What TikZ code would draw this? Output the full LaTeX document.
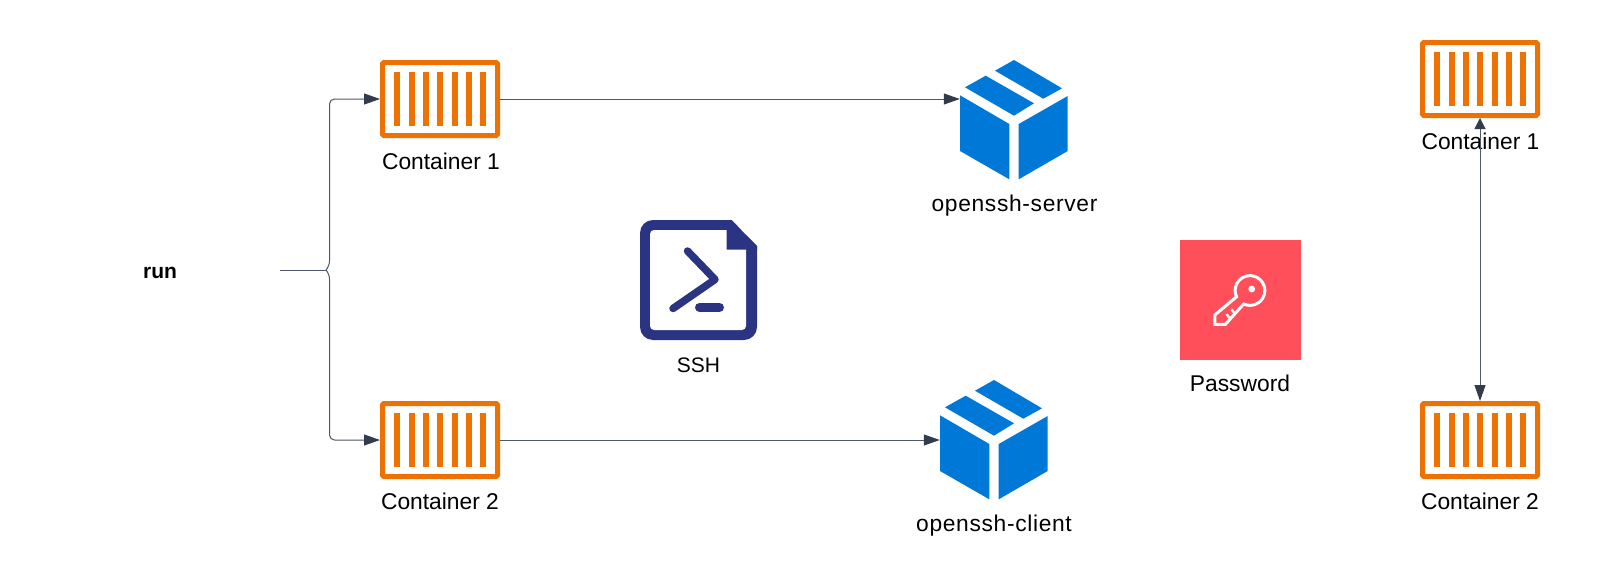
\documentclass[tikz,border=0pt]{standalone}
\usepackage{fontspec}
\setmainfont{Liberation Sans}
\usetikzlibrary{arrows.meta,calc}
\definecolor{cont}{HTML}{EE7203}
\definecolor{boxblue}{HTML}{0078D7}
\definecolor{navy}{HTML}{2B3483}
\definecolor{keyred}{HTML}{FF4F5B}
\definecolor{edgecol}{HTML}{50576A}
\definecolor{tipcol}{HTML}{333C4D}
\tikzset{
  x=1pt,y=-1pt,
  lbl/.style={font=\fontsize{22.8}{26}\selectfont,text=black,inner sep=0pt,anchor=base},
  runlbl/.style={font=\fontsize{21}{26}\selectfont\bfseries,text=black,inner sep=0pt,anchor=base},
  container/.style={draw=cont,line width=5pt,rounded corners=1.5pt,minimum width=115pt,minimum height=73pt,inner sep=0pt,fill=white},
  link/.style={draw=edgecol,line width=1pt,-{Triangle[length=16pt,width=11pt,color=tipcol]}},
  plain/.style={draw=edgecol,line width=1pt},
  duallink/.style={draw=edgecol,line width=1pt,{Triangle[length=11pt,width=11pt,color=tipcol]}-{Triangle[length=16pt,width=11pt,color=tipcol]}},
}
\newcommand{\mybars}[1]{%
  \foreach \i in {0,...,6}{
    \fill[cont] ($(#1.center)+(-45.8+14.33*\i,-26.7)$) rectangle ++(6,53.4);
  }}
\newcommand{\mybox}[3]{% x y of top centre
  \begin{scope}[shift={(#1,#2)}]
    \fill[boxblue] (-19,10.7) -- (0,0) -- (48,28.3) -- (29.3,38.7) -- cycle;
    \fill[boxblue] (-49,27.3) -- (-28.3,15.7) -- (20,43.3) -- (0,55.7) -- cycle;
    \fill[boxblue] (-54,35.3) -- (-4.7,64) -- (-4.7,119.3) -- (-54,91) -- cycle;
    \fill[boxblue] (4.7,64) -- (53.7,36) -- (53.7,91) -- (4.7,119.3) -- cycle;
  \end{scope}
  \node[inner sep=0pt,minimum width=108pt,minimum height=120pt] (#3) at (#1,#2+60) {};
}
\begin{document}
\begin{tikzpicture}
\useasboundingbox (0,0) rectangle (1610,570);
\fill[white] (0,0) rectangle (1610,570);
% containers
\node[container] (c1) at (440,99) {}; \mybars{c1}
\node[container] (c2) at (440,440) {}; \mybars{c2}
\node[container] (r1) at (1480,79) {}; \mybars{r1}
\node[container] (r2) at (1480,440) {}; \mybars{r2}
\node[lbl] (c1l) at (441,169.8) {Container 1};
\node[lbl] (c2l) at (440,509.8) {Container 2};
\node[lbl] (r1l) at (1480.5,149.8) {Container 1};
\node[lbl] (r2l) at (1480,509.8) {Container 2};
% packages
\mybox{1014}{60}{b1}
\mybox{994}{380}{b2}
\node[lbl] (b1l) at (1014.5,211) {\addfontfeature{LetterSpace=2.9}openssh-server};
\node[lbl] (b2l) at (994,531) {\addfontfeature{LetterSpace=2.9}openssh-client};
% ssh icon
\node[inner sep=0pt,minimum width=117pt,minimum height=120pt] (ssh) at (698.5,280) {};
\fill[navy,rounded corners=13pt] (640,220) rectangle (757,340);
\fill[white] (731,219) -- (758,219) -- (758,246) -- (757,246) -- cycle;
\fill[white,rounded corners=4pt] (650,230) rectangle (746,330);
\fill[white] (746,229) -- (758,229) -- (758,246) -- (757,246) -- (740.5,229.5) -- cycle;
\fill[navy] (726.7,229) -- (740,229) -- (757,246) -- (757,249.5) -- (726.7,249.5) -- cycle;
\draw[navy,line width=7.5pt,line cap=round,line join=round] (687.5,251) -- (715,279.5) -- (673,308.5);
\draw[navy,line width=9pt,line cap=round] (699.5,307.5) -- (719.5,307.5);
\node[lbl,font=\fontsize{21}{26}\selectfont] (sshl) at (698.5,372) {SSH};
% key
\node[fill=keyred,inner sep=0pt,minimum width=121pt,minimum height=120pt] (pw) at (1240.5,300) {};
\draw[white,line width=3pt,line join=miter]
  (1214.8,315) -- plot[domain=155:475,samples=70,smooth] ({1250+14.8*cos(\x)},{290.5+14.8*sin(\x)})
  -- (1225.4,324.3) -- (1214.8,324.3) -- cycle;
\fill[white] (1251.7,289) circle[radius=3.4];
\draw[white,line width=2.4pt] (1226.5,314) -- (1229.5,318);
\draw[white,line width=2.4pt] (1231.5,309.5) -- (1234.5,313);
\node[lbl] (pwl) at (1240,391.8) {Password};
% run
\node[runlbl] (run) at (160,278) {run};
\coordinate (rs) at (280,270);
\draw[plain] (rs) -- (326,270);
\draw[link,rounded corners=5pt] (326,270) -- (329.5,266) -- (329.5,99) -- (c1.west);
\draw[link,rounded corners=5pt] (326,270) -- (329.5,274) -- (329.5,440) -- (c2.west);
% edges
\draw[link] (c1.east) -- (c1.east-|b1.west);
\draw[link] (c2.east) -- (c2.east-|b2.west);
\draw[duallink] (r1.south) -- (r2.north);
\end{tikzpicture}
\end{document}
